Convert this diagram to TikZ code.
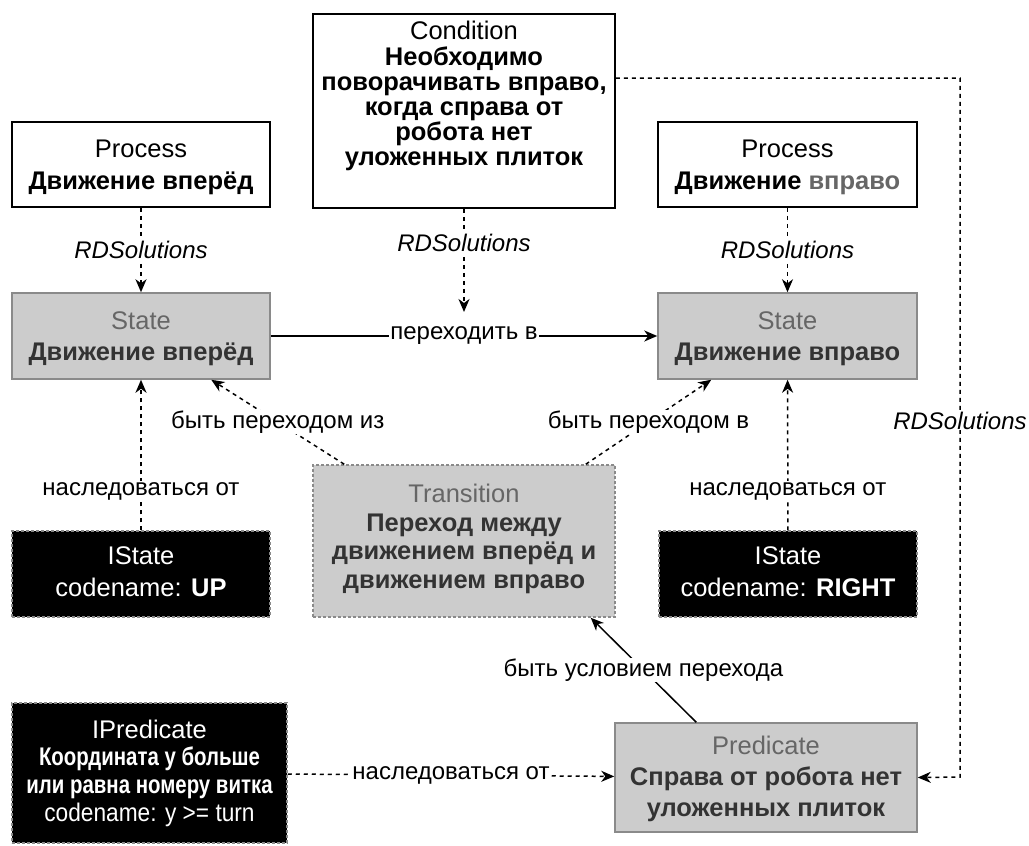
\documentclass[tikz,border=0pt]{standalone}
\usepackage{fontspec}
\setmainfont{Liberation Sans}
\newfontfamily\condA[FakeStretch=0.8]{Liberation Sans}
\newfontfamily\condB[FakeStretch=0.89]{Liberation Sans}
\usetikzlibrary{arrows.meta,calc}
\definecolor{gfill}{HTML}{CCCCCC}
\definecolor{gborder}{HTML}{8A8A8A}
\definecolor{gtext}{HTML}{666666}
\definecolor{dtext}{HTML}{333333}
\tikzset{
  x=1pt,y=-1pt,
  box/.style={rectangle,draw=black,line width=1.5pt,fill=white,align=center,inner sep=1pt,
    font=\fontsize{25.5}{31.5}\selectfont,text=black},
  graybox/.style={rectangle,draw=gborder,line width=1.5pt,fill=gfill,align=center,inner sep=1pt,
    font=\fontsize{25.5}{31.5}\selectfont,text=dtext},
  darkbox/.style={rectangle,draw=gborder,dash pattern=on 3pt off 2pt,line width=1.5pt,fill=black,align=center,inner sep=1pt,
    font=\fontsize{25.5}{31.5}\selectfont,text=white},
  conn/.style={line width=1.5pt,-{Stealth[length=13pt,width=11pt,inset=4pt]}},
  dconn/.style={conn,dash pattern=on 4pt off 4pt},
  elabel/.style={fill=white,inner sep=1pt,font=\fontsize{24}{25}\selectfont,text=black},
  ilabel/.style={elabel,font=\fontsize{24}{25}\selectfont\itshape},
}
\begin{document}
\begin{tikzpicture}
\useasboundingbox (0,0) rectangle (1029,846);
% nodes
\node[box,text depth=0pt,minimum width=258pt,minimum height=85pt] (procL) at (141,164.5)
  {Process\\\textbf{Движение вперёд}};
\node[box,font=\fontsize{25.5}{25.2}\selectfont,text depth=34.5pt,minimum width=302pt,minimum height=194pt] (cond) at (464,111)
  {Condition\\\textbf{Необходимо}\\\textbf{поворачивать вправо,}\\\textbf{когда справа от}\\\textbf{робота нет}\\\textbf{уложенных плиток}};
\node[box,text depth=0pt,minimum width=259pt,minimum height=85pt] (procR) at (787.5,164.5)
  {Process\\\textbf{Движение \textcolor{gtext}{вправо}}};
\node[graybox,text depth=0pt,minimum width=258pt,minimum height=86pt] (stL) at (141,336)
  {\textcolor{gtext}{State}\\\textbf{Движение вперёд}};
\node[graybox,text depth=0pt,minimum width=259pt,minimum height=86pt] (stR) at (787.5,336)
  {\textcolor{gtext}{State}\\\textbf{Движение вправо}};
\node[graybox,font=\fontsize{25.5}{28.5}\selectfont,text depth=9.4pt,draw=gborder,dash pattern=on 3pt off 2pt,minimum width=302pt,minimum height=152pt] (trans) at (464,541)
  {\textcolor{gtext}{Transition}\\\textbf{Переход между}\\\textbf{движением вперёд и}\\\textbf{движением вправо}};
\node[darkbox,text depth=5pt,minimum width=258pt,minimum height=86pt] (isUp) at (141,574)
  {IState\\codename: \textbf{UP}};
\node[darkbox,text depth=5pt,minimum width=258pt,minimum height=86pt] (isR) at (788,574)
  {IState\\codename: \textbf{RIGHT}};
\node[darkbox,font=\fontsize{25.5}{27.7}\selectfont,minimum width=275pt,minimum height=140pt] (ipred) at (149.5,773)
  {IPredicate\\{\condA\bfseries Координата у больше}\\{\condA\bfseries или равна номеру витка}\\{\condB codename: y >= turn}};
\node[graybox,font=\fontsize{25.5}{31}\selectfont,text depth=2pt,minimum width=302pt,minimum height=109pt] (pred) at (766,777.5)
  {\textcolor{gtext}{Predicate}\\\textbf{Справа от робота нет}\\\textbf{уложенных плиток}};
% coordinates
\coordinate (condEnd) at (464,312);
\coordinate (c1) at (960,78);
\coordinate (c2) at (960,777);
% connectors
\draw[dconn] (procL) -- node[ilabel] {RDSolutions} (stL);
\draw[dconn] (procR) -- node[ilabel] {RDSolutions} (stR);
\draw[dconn] (cond) -- node[ilabel,pos=0.33] {RDSolutions} (condEnd);
\draw[conn] (stL) -- node[elabel] {переходить в} (stR);
\draw[dconn] (isUp) -- node[elabel,pos=0.26] {наследоваться от} (stL);
\draw[dconn] (isR) -- node[elabel,pos=0.26] {наследоваться от} (stR);
\draw[dconn] ($(trans.north west)+(32,0)$) -- node[elabel,pos=0.5] {быть переходом из} ($(stL.south west)+(200,0)$);
\draw[dconn] ($(trans.north east)+(-30,0)$) -- node[elabel,pos=0.5] {быть переходом в} ($(stR.south west)+(54,0)$);
\draw[conn] ($(pred.north west)+(82,0)$) -- node[elabel,pos=0.5] {быть условием перехода} ($(trans.south east)+(-25,0)$);
\draw[dconn] (ipred) -- node[elabel] {наследоваться от} (pred);
\draw[dconn] (cond.east |- c1) -- (c1) -- node[ilabel,pos=0.49] {RDSolutions} (c2) -- (pred.east);
\end{tikzpicture}
\end{document}
